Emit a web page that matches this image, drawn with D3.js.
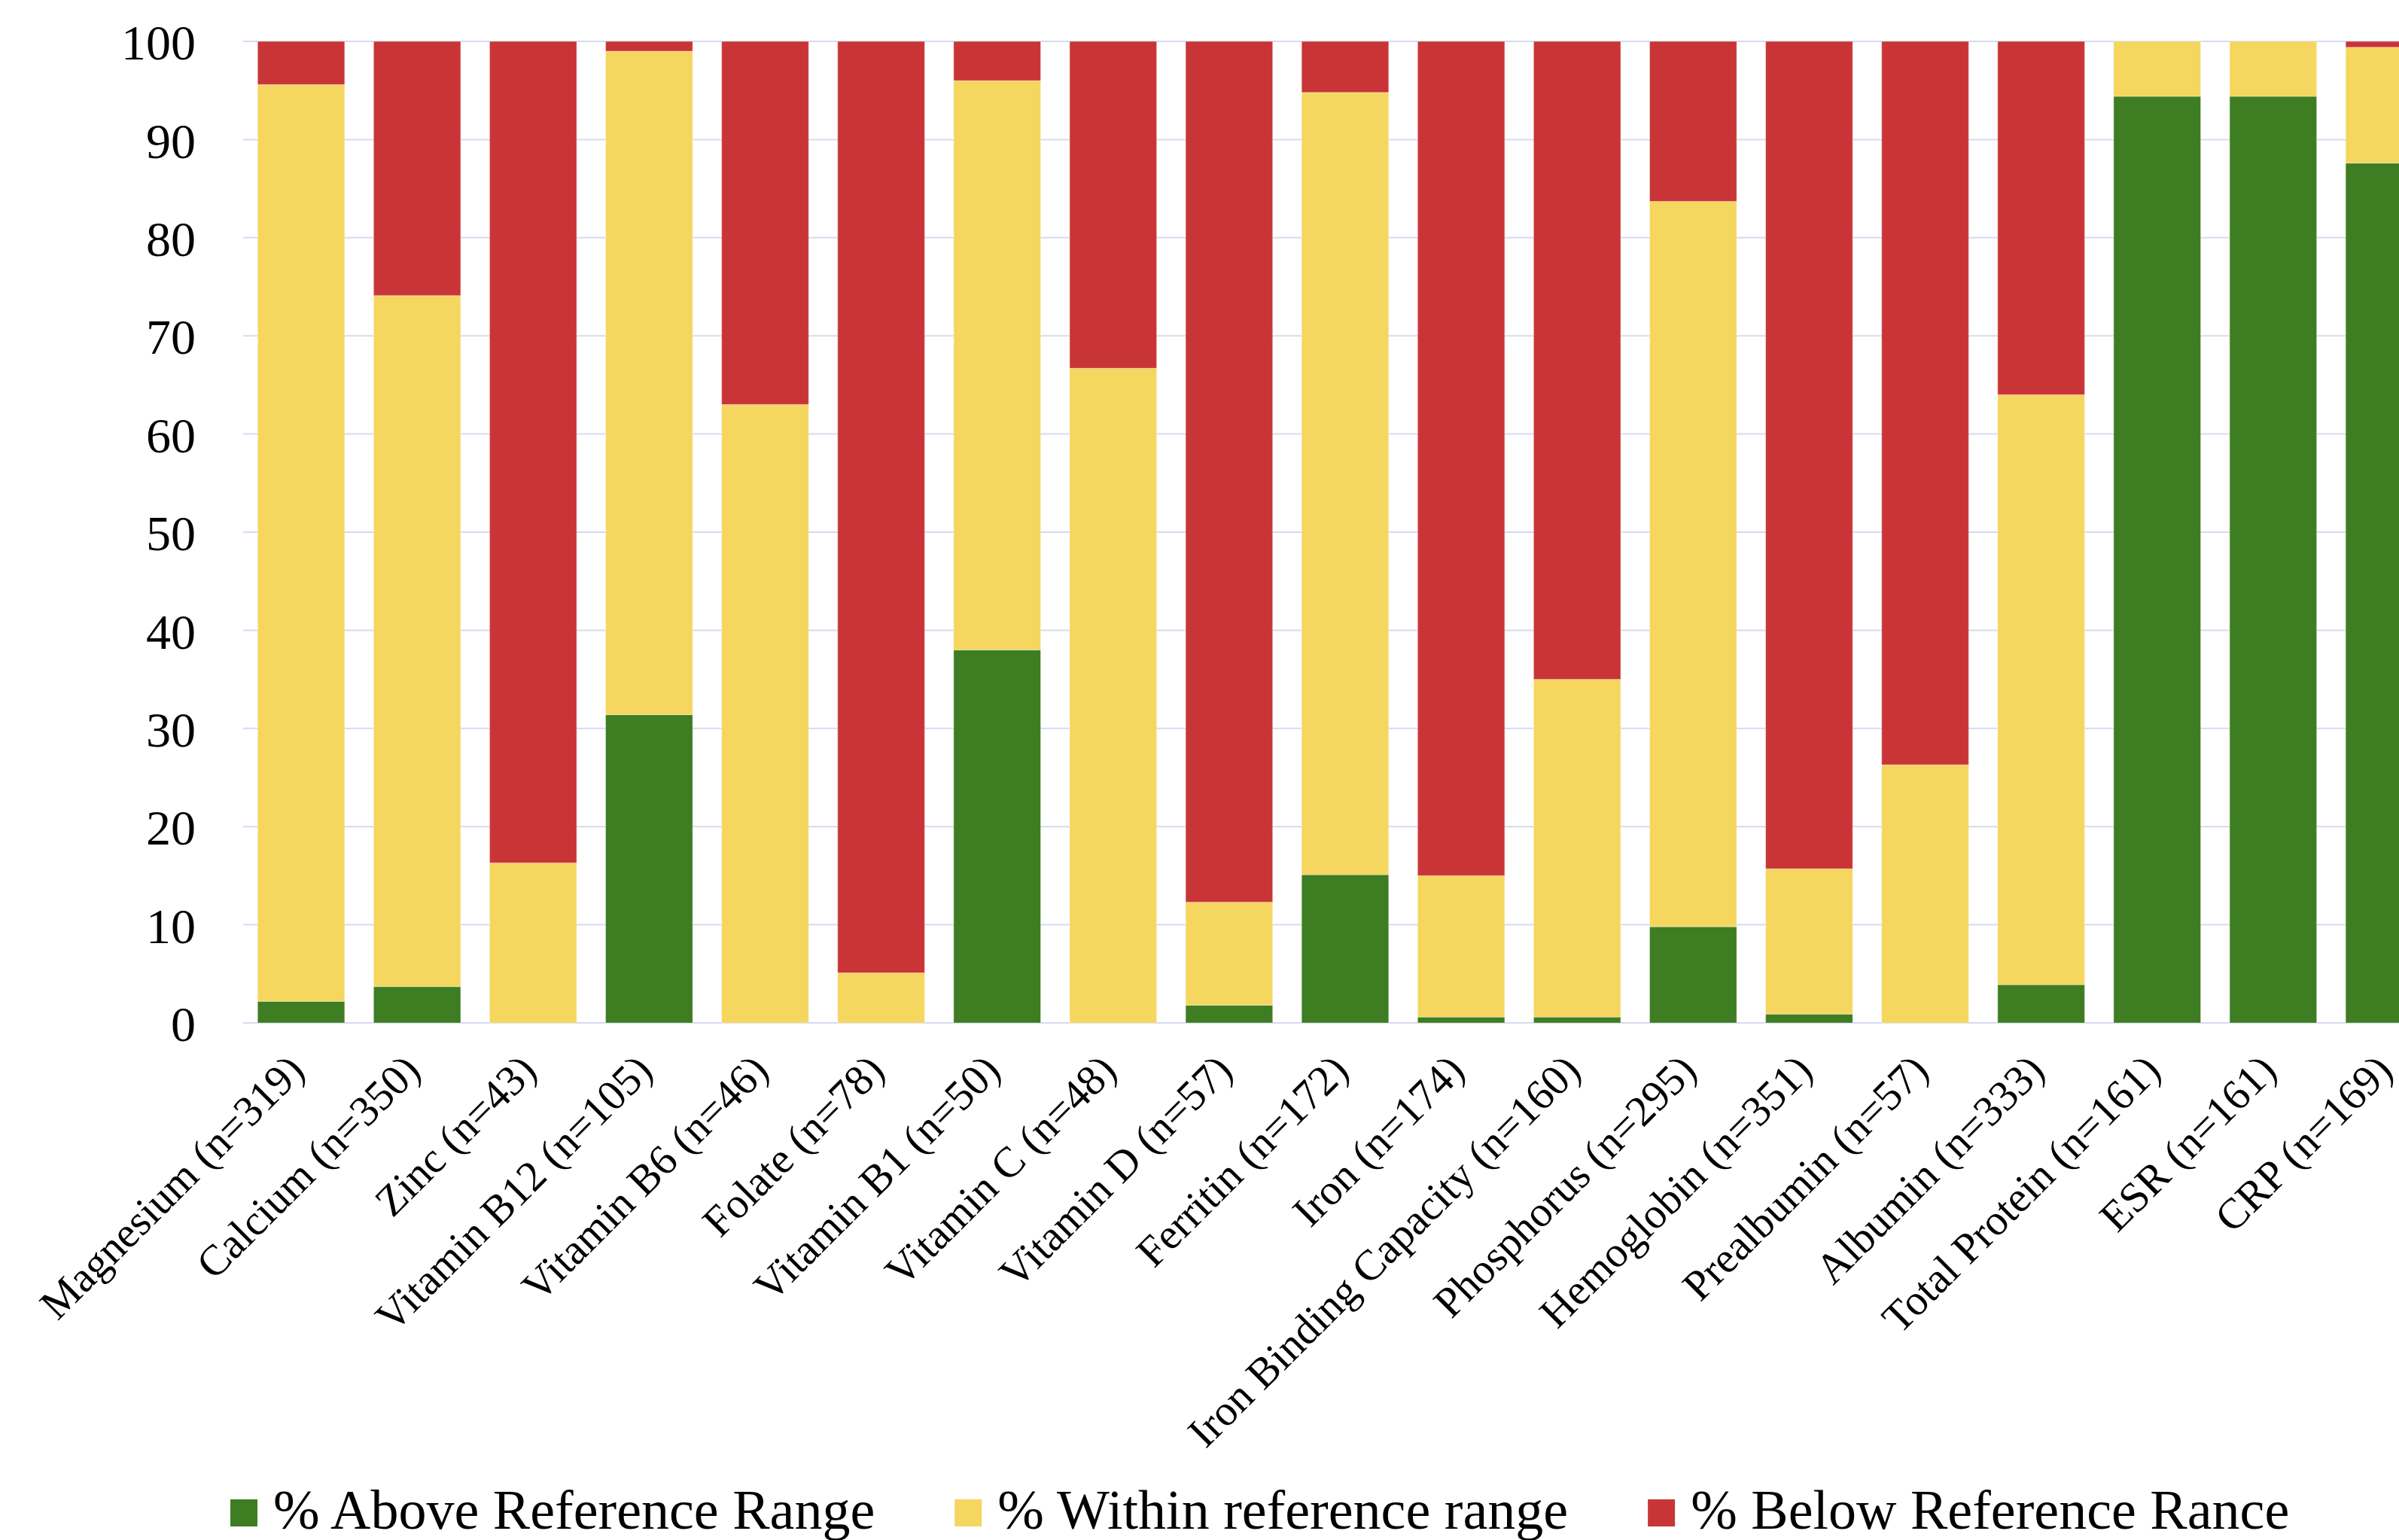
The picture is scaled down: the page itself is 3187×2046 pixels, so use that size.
<!DOCTYPE html>
<html>
<head>
<meta charset="utf-8">
<script src="https://cdn.jsdelivr.net/npm/d3@7"></script>
<style>
  html, body { margin: 0; padding: 0; background: #fff; overflow: hidden; }
  svg { display: block; }
</style>
</head>
<body>
<script>
const categories = [
  "Magnesium (n=319)", "Calcium (n=350)", "Zinc (n=43)", "Vitamin B12 (n=105)",
  "Vitamin B6 (n=46)", "Folate (n=78)", "Vitamin B1 (n=50)", "Vitamin C (n=48)",
  "Vitamin D (n=57)", "Ferritin (n=172)", "Iron (n=174)", "Iron Binding Capacity (n=160)",
  "Phosphorus (n=295)", "Hemoglobin (n=351)", "Prealbumin (n=57)", "Albumin (n=333)",
  "Total Protein (n=161)", "ESR (n=161)", "CRP (n=169)"
];
const aboveRange  = [2.2, 3.7, 0, 31.4, 0, 0, 38.0, 0, 1.8, 15.1, 0.6, 0.6, 9.8, 0.9, 0, 3.9, 94.4, 94.4, 87.6];
const withinRange = [93.4, 70.4, 16.3, 67.6, 63.0, 5.1, 58.0, 66.7, 10.5, 79.7, 14.4, 34.4, 73.9, 14.8, 26.3, 60.1, 5.6, 5.6, 11.8];
const belowRange  = [4.4, 25.9, 83.7, 1.0, 37.0, 94.9, 4.0, 33.3, 87.7, 5.2, 85.0, 65.0, 16.3, 84.3, 73.7, 36.0, 0, 0, 0.6];
const seriesNames = ["% Above Reference Range", "% Within reference range", "% Below Reference Rance"];
const seriesColors = ["#3e7d22", "#f5d65e", "#c93537"];
const yTicks = [0, 10, 20, 30, 40, 50, 60, 70, 80, 90, 100];

const W = 3187, H = 2046;
const FONT = "'Liberation Serif', 'Times New Roman', serif";

const rows = categories.map((c, i) => ({
  cat: c, s0: aboveRange[i], s1: withinRange[i], s2: belowRange[i]
}));
const keys = ["s0", "s1", "s2"];
const stacked = d3.stack().keys(keys)(rows);

const x = d3.scaleBand().domain(categories).range([323, 3251])
  .paddingInner(0.25).paddingOuter(0.125);
const y = d3.scaleLinear().domain([0, 100]).range([1359, 55]);

const svg = d3.select("body").append("svg")
  .attr("width", W).attr("height", H)
  .style("font-family", FONT);

// gridlines
svg.append("g").selectAll("line").data(yTicks).join("line")
  .attr("x1", 323).attr("x2", W + 100)
  .attr("y1", d => y(d)).attr("y2", d => y(d))
  .attr("stroke", "#d7daef").attr("stroke-width", 2);

// y axis labels
const yAxis = d3.axisLeft(y).tickValues(yTicks).tickSize(0).tickPadding(0);
const yg = svg.append("g").attr("transform", "translate(260,0)").call(yAxis);
yg.select(".domain").remove();
yg.selectAll("text")
  .attr("font-family", FONT).attr("font-size", 66).attr("fill", "#000")
  .attr("dy", "0.36em");

// bars
svg.append("g").selectAll("g").data(stacked).join("g")
  .attr("fill", (d, i) => seriesColors[i])
  .selectAll("rect").data(d => d).join("rect")
  .attr("x", d => x(d.data.cat))
  .attr("width", x.bandwidth())
  .attr("y", d => y(d[1]))
  .attr("height", d => Math.max(0, y(d[0]) - y(d[1])))
  .attr("stroke", "#ffffff").attr("stroke-opacity", 0.35).attr("stroke-width", 1);

// x axis labels
const xAxis = d3.axisBottom(x).tickSize(0).tickPadding(0);
const xg = svg.append("g").attr("transform", "translate(0,1359)").call(xAxis);
xg.select(".domain").remove();
xg.selectAll("text")
  .attr("font-family", FONT).attr("font-size", 57).attr("fill", "#000")
  .attr("text-anchor", "end")
  .attr("dy", "0.35em")
  .attr("transform", "translate(-7,52) rotate(-45)");

// legend
const leg = svg.append("g");
let lx = 306;
seriesNames.forEach((name, i) => {
  const g = leg.append("g");
  g.append("rect").attr("x", lx).attr("y", 1992).attr("width", 36).attr("height", 36)
    .attr("fill", seriesColors[i]);
  const t = g.append("text").attr("x", lx + 57).attr("y", 2031)
    .attr("font-size", 74).attr("fill", "#000").text(name);
  lx = lx + 57 + t.node().getComputedTextLength() + 106;
});
</script>
</body>
</html>
